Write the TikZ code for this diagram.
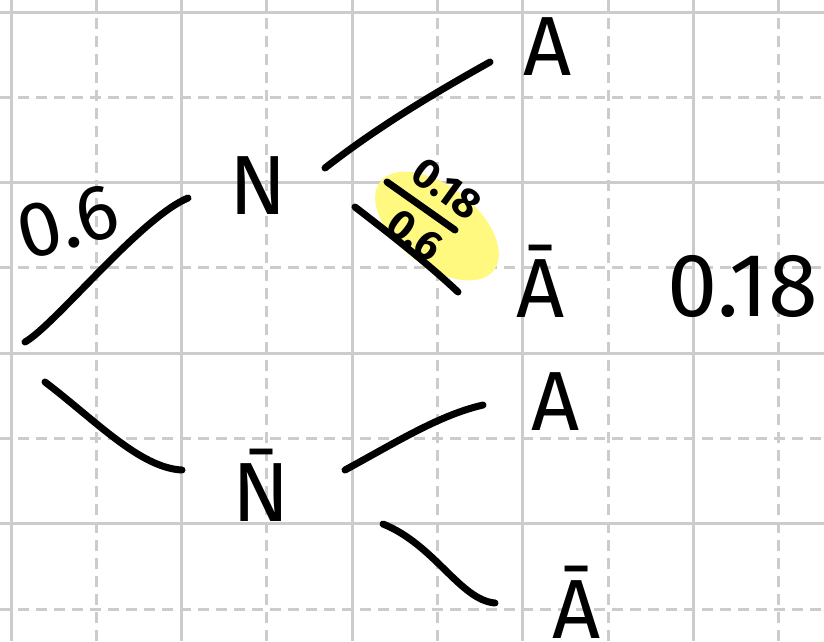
\documentclass[tikz,border=0pt]{standalone}
\usepackage{fontspec}
\setmainfont{Fira Sans}
\definecolor{gridgray}{RGB}{204,204,204}
\definecolor{hlyellow}{RGB}{255,249,128}
\begin{document}
\begin{tikzpicture}[x=1pt,y=-1pt,
  ink/.style={line width=7pt,line cap=round,line join=round,black},
  gridsolid/.style={line width=3pt,gridgray},
  griddash/.style={line width=3pt,gridgray,dash pattern=on 11pt off 7pt},
  lab/.style={inner sep=0pt,anchor=base,font=\fontsize{84}{90}\selectfont},
  small/.style={inner sep=0pt,font=\fontsize{42}{44}\selectfont\bfseries}]
\useasboundingbox (0,0) rectangle (824,641);
\fill[white] (0,0) rectangle (824,641);
% grid
\foreach \k in {0,...,4} {
  \draw[gridsolid] ({11+170.6*\k},0) -- ({11+170.6*\k},641);
  \draw[griddash] ({96.3+170.6*\k},0) -- ({96.3+170.6*\k},641);
}
\foreach \k in {0,...,3} {
  \draw[gridsolid] (0,{12+170.6*\k}) -- (824,{12+170.6*\k});
  \draw[griddash] (0,{97.3+170.6*\k}) -- (824,{97.3+170.6*\k});
}
% highlight
\fill[hlyellow, rotate around={-38:(437,226)}] (437,226) ellipse [x radius=72, y radius=40];
% nodes
\node[lab] (N) at (258,214) {N};
\node[lab] (Nb) at (261,521) {N\char"0304};
\node[lab] (A1) at (548,75) {A};
\node[lab] (A2) at (541,317) {Ā};
\node[lab] (A3) at (556,430) {A};
\node[lab] (A4) at (577,638) {Ā};
\node[lab,font=\fontsize{90}{94}\selectfont] (res) at (743,316) {0.18};
\node[inner sep=0pt,font=\fontsize{78}{80}\selectfont,rotate=15] (p1) at (68,222) {0.6};
\node[small,rotate=-36] (num) at (447,189) {0.18};
\node[small,rotate=-37] (den) at (415,235) {0.6};
% connectors
\coordinate (s1) at (25,342); \coordinate (e1) at (188,198);
\coordinate (s2) at (45,382); \coordinate (e2) at (182,470);
\coordinate (s3) at (325,168); \coordinate (e3) at (490,62);
\coordinate (s4) at (355,207); \coordinate (e4) at (458,292);
\coordinate (s5) at (345,470); \coordinate (e5) at (483,405);
\coordinate (s6) at (383,524); \coordinate (e6) at (495,603);
\coordinate (f1) at (387,182); \coordinate (f2) at (455,230);
\draw[ink] (s1) .. controls (55,325) and (140,218) .. (e1);
\draw[ink] (s2) .. controls (95,420) and (140,468) .. (e2);
\draw[ink] (s3) .. controls (380,125) and (440,90) .. (e3);
\draw[ink] (s4) .. controls (390,234) and (426,262) .. (e4);
\draw[ink] (s5) .. controls (400,440) and (440,415) .. (e5);
\draw[ink] (s6) .. controls (435,545) and (460,600) .. (e6);
\draw[ink] (f1) -- (f2);
\end{tikzpicture}
\end{document}
